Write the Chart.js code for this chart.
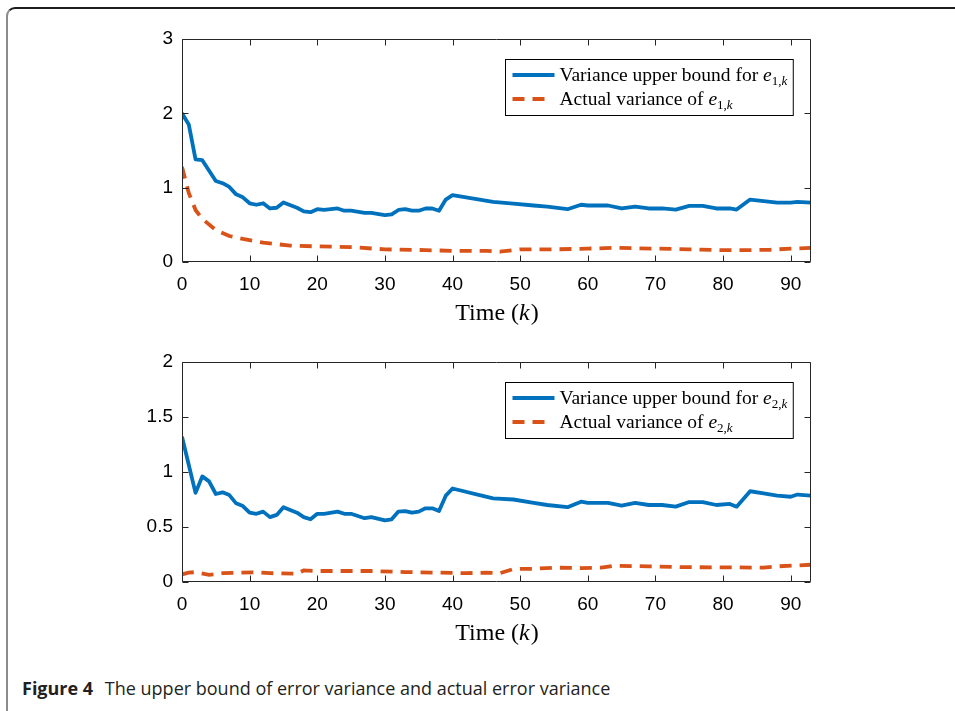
<!DOCTYPE html>
<html>
<head>
<meta charset="utf-8">
<script src="https://cdn.jsdelivr.net/npm/chart.js@4/dist/chart.umd.min.js"></script>
<style>
  html, body { margin:0; padding:0; background:#fff; }
  body { width:955px; height:711px; position:relative; overflow:hidden; }
  #frame { position:absolute; left:6px; top:7px; width:1000px; height:800px;
           border-top:2px solid #1e1e1e; border-left:2px solid #8c8c8c; border-top-left-radius:9px; box-sizing:border-box; }
  canvas { position:absolute; left:0; }
  #c1 { top:0; }
  #c2 { top:335px; }
  #caption { position:absolute; left:22px; top:676px; font-family:"Open Sans", sans-serif; font-size:18px; color:#231f20; white-space:nowrap; letter-spacing:0px; }
  #caption b { font-weight:700; margin-right:7px; }
</style>
</head>
<body>
<div id="frame"></div>
<canvas id="c1" width="955" height="335"></canvas>
<canvas id="c2" width="955" height="335"></canvas>
<div id="caption"><b>Figure 4</b> The upper bound of error variance and actual error variance</div>
<script>
// ---------- data ----------
const xTicks = [0, 10, 20, 30, 40, 50, 60, 70, 80, 90];
const yTicksTop = [0, 1, 2, 3];
const yTicksBottom = [0, 0.5, 1, 1.5, 2];
const xTitleParts = ['Time (', 'k', ')'];

const kUpper1 = [0,1,2,3,5,6,7,8,9,10,11,12,13,14,15,17,18,19,20,21,23,24,25,27,28,30,31,32,33,34,35,36,37,38,39,40,44,46,49,52,54,57,59,60,63,65,67,69,71,73,75,77,79,81,82,84,86,88,90,91,93];
const upper1 = [2.0,1.85,1.38,1.37,1.09,1.06,1.01,0.91,0.87,0.79,0.77,0.79,0.72,0.73,0.80,0.73,0.68,0.67,0.71,0.70,0.72,0.69,0.69,0.66,0.66,0.63,0.64,0.70,0.71,0.69,0.69,0.72,0.72,0.69,0.84,0.90,0.84,0.81,0.785,0.76,0.745,0.71,0.77,0.76,0.76,0.72,0.745,0.72,0.72,0.705,0.755,0.755,0.72,0.72,0.705,0.84,0.82,0.80,0.80,0.81,0.80];

const kActual1 = [0,1,2,3,5,7,9,12,16,20,25,30,36,40,45,47,50,55,60,64,70,75,80,84,87,90,93];
const actual1 = [1.28,0.93,0.70,0.58,0.43,0.35,0.31,0.26,0.22,0.21,0.20,0.17,0.16,0.15,0.15,0.14,0.17,0.17,0.18,0.19,0.18,0.17,0.16,0.16,0.165,0.18,0.19];

const kUpper2 = [0,2,3,4,5,6,7,8,9,10,11,12,13,14,15,17,18,19,20,21,23,24,25,27,28,30,31,32,33,34,35,36,37,38,39,40,44,46,49,52,54,57,59,60,63,65,67,69,71,73,75,77,79,81,82,84,86,88,90,91,93];
const upper2 = [1.32,0.81,0.96,0.915,0.80,0.815,0.79,0.715,0.69,0.63,0.62,0.64,0.59,0.61,0.68,0.63,0.59,0.57,0.62,0.62,0.64,0.62,0.62,0.58,0.59,0.56,0.57,0.64,0.645,0.63,0.64,0.67,0.67,0.645,0.785,0.85,0.79,0.76,0.75,0.72,0.70,0.68,0.73,0.72,0.72,0.695,0.72,0.70,0.70,0.685,0.727,0.727,0.70,0.71,0.685,0.825,0.805,0.785,0.775,0.795,0.785];

const kActual2 = [0,1,2,4,6,11,13,17,18,20,25,28,33,38,42,45,47,49,52,55,59,62,64,69,74,81,86,88,93];
const actual2 = [0.07,0.085,0.09,0.065,0.08,0.088,0.08,0.075,0.105,0.10,0.10,0.10,0.09,0.085,0.08,0.085,0.08,0.118,0.12,0.13,0.127,0.13,0.148,0.142,0.135,0.133,0.13,0.142,0.157];

const legendMain = ['Variance upper bound for ', 'Actual variance of '];
const subTop = '1';
const subBottom = '2';

// ---------- styling ----------
const BLUE = '#0072BD', ORANGE = '#D95319', AXIS = '#262626';
const SERIF = '"Liberation Serif", "Times New Roman", serif';
const SANS = '"Liberation Sans", Arial, sans-serif';

const toPts = (ks, vs) => ks.map((k, i) => ({ x: k, y: vs[i] }));

const framePlugin = {
  id: 'frameTicks',
  afterDatasetsDraw(chart) {
    const { ctx, chartArea: a, scales: { x, y } } = chart;
    ctx.save();
    ctx.strokeStyle = AXIS;
    ctx.lineWidth = 1;
    const L = Math.round(a.left) + 0.5, R = Math.round(a.right) - 0.5;
    const T = Math.round(a.top) + 0.5, B = Math.round(a.bottom) - 0.5;
    ctx.beginPath();
    ctx.rect(L, T, R - L, B - T);
    const tl = 6;
    x.ticks.forEach(t => {
      const p = Math.round(x.getPixelForValue(t.value)) + 0.5;
      ctx.moveTo(p, B); ctx.lineTo(p, B - tl);
      ctx.moveTo(p, T); ctx.lineTo(p, T + tl);
    });
    y.ticks.forEach(t => {
      const p = Math.round(y.getPixelForValue(t.value)) + 0.5;
      ctx.moveTo(L, p); ctx.lineTo(L + tl, p);
      ctx.moveTo(R, p); ctx.lineTo(R - tl, p);
    });
    ctx.stroke();
    // x-axis title with italic k
    const fonts = ['24px ' + SERIF, 'italic 24px ' + SERIF, '24px ' + SERIF];
    let total = 0;
    const ws = xTitleParts.map((s, i) => { ctx.font = fonts[i]; const w = ctx.measureText(s).width; total += w; return w; });
    let tx = (a.left + a.right) / 2 - total / 2;
    const ty = a.bottom + 58;
    ctx.fillStyle = '#000';
    ctx.textAlign = 'left';
    ctx.textBaseline = 'alphabetic';
    xTitleParts.forEach((s, i) => { ctx.font = fonts[i]; ctx.fillText(s, tx, ty); tx += ws[i] + (i === 1 ? 1 : 0); });
    ctx.restore();
  }
};

const legendPlugin = {
  id: 'innerLegend',
  afterDatasetsDraw(chart, args, opts) {
    const { ctx, chartArea: a } = chart;
    const ds = chart.data.datasets;
    const mainFont = '19.5px ' + SERIF, itFont = 'italic 19.5px ' + SERIF;
    const subFont = '13px ' + SERIF, subIt = 'italic 13px ' + SERIF;
    ctx.save();
    const widths = legendMain.map(m => {
      ctx.font = mainFont; let w = ctx.measureText(m).width;
      ctx.font = itFont; w += ctx.measureText('e').width;
      ctx.font = subFont; w += ctx.measureText(opts.sub + ',').width;
      ctx.font = subIt; w += ctx.measureText('k').width;
      return w;
    });
    const sample = 42, gap = 5, padL = 7, padR = 6;
    const boxW = padL + sample + gap + Math.max(...widths) + padR;
    const boxH = 56;
    const bx = Math.round(a.right - 18 - boxW) + 0.5;
    const by = Math.round(a.top + 20) + 0.5;
    ctx.fillStyle = '#fff';
    ctx.fillRect(bx, by, boxW, boxH);
    ctx.strokeStyle = '#000';
    ctx.lineWidth = 1;
    ctx.strokeRect(bx, by, boxW, boxH);
    legendMain.forEach((m, i) => {
      const d = ds[i];
      const baseY = by + 21 + i * 24;
      const ly = baseY - 5.5;
      const dashed = !!d.borderDash;
      const len = dashed ? d.borderDash[0] * 2 + d.borderDash[1] : sample;
      ctx.beginPath();
      ctx.strokeStyle = d.borderColor;
      ctx.lineWidth = d.borderWidth;
      ctx.setLineDash(d.borderDash || []);
      ctx.moveTo(bx + padL, ly); ctx.lineTo(bx + padL + len, ly);
      ctx.stroke();
      ctx.setLineDash([]);
      let tx = bx + padL + sample + gap;
      ctx.fillStyle = '#000';
      ctx.textBaseline = 'alphabetic';
      ctx.textAlign = 'left';
      ctx.font = mainFont; ctx.fillText(m, tx, baseY); tx += ctx.measureText(m).width;
      ctx.font = itFont; ctx.fillText('e', tx, baseY); tx += ctx.measureText('e').width;
      ctx.font = subFont; ctx.fillText(opts.sub + ',', tx, baseY + 4); tx += ctx.measureText(opts.sub + ',').width;
      ctx.font = subIt; ctx.fillText('k', tx, baseY + 4);
    });
    ctx.restore();
  }
};

function makeChart(id, ku, u, ka, av, yTicks, yMax, padTop, padBottom, sub) {
  return new Chart(document.getElementById(id), {
    type: 'line',
    data: {
      datasets: [
        { data: toPts(ku, u), borderColor: BLUE, borderWidth: 3.8, pointRadius: 0, tension: 0, fill: false, borderJoinStyle: 'round' },
        { data: toPts(ka, av), borderColor: ORANGE, borderWidth: 3.8, borderDash: [12, 8], pointRadius: 0, tension: 0, fill: false }
      ]
    },
    options: {
      responsive: false,
      animation: false,
      devicePixelRatio: 1,
      layout: { padding: { left: 122, right: 144, top: padTop, bottom: padBottom } },
      plugins: { legend: { display: false }, tooltip: { enabled: false }, innerLegend: { sub: sub } },
      scales: {
        x: {
          type: 'linear', min: 0, max: 93,
          grid: { display: false, drawTicks: false },
          border: { display: false },
          afterBuildTicks: s => { s.ticks = xTicks.map(v => ({ value: v })); },
          afterFit: s => { s.height = 62; },
          ticks: { color: '#000', font: { family: SANS, size: 19 }, padding: 11, maxRotation: 0, callback: v => String(v) }
        },
        y: {
          type: 'linear', min: 0, max: yMax,
          grid: { display: false, drawTicks: false },
          border: { display: false },
          afterBuildTicks: s => { s.ticks = yTicks.map(v => ({ value: v })); },
          afterFit: s => { s.width = 60; },
          ticks: { color: '#000', font: { family: SANS, size: 19 }, padding: 9, callback: v => String(v) }
        }
      }
    },
    plugins: [framePlugin, legendPlugin]
  });
}

makeChart('c1', kUpper1, upper1, kActual1, actual1, yTicksTop, 3, 39, 11, subTop);
makeChart('c2', kUpper2, upper2, kActual2, actual2, yTicksBottom, 2, 27, 26, subBottom);
</script>
</body>
</html>
